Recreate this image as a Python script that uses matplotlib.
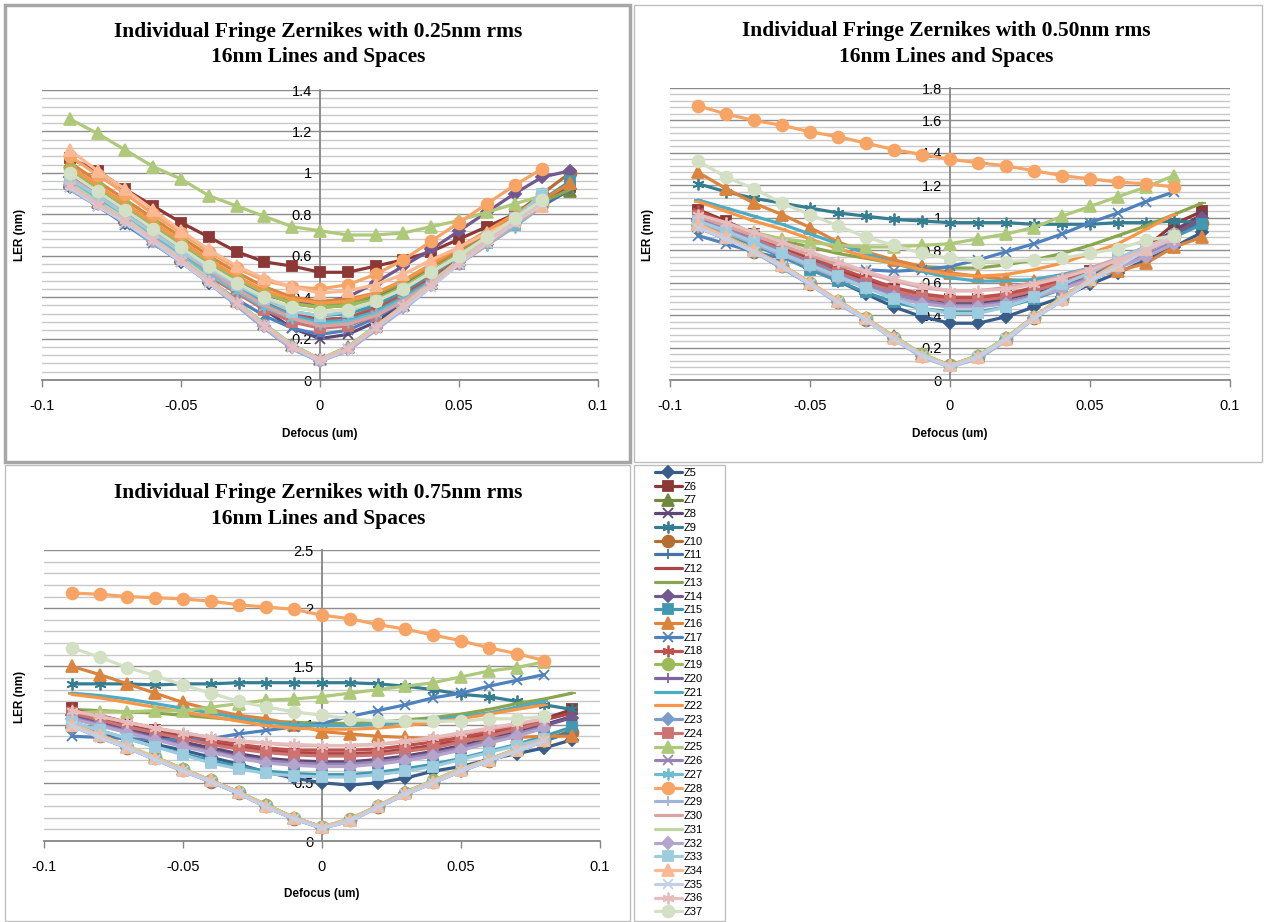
import matplotlib
matplotlib.use('Agg')
import matplotlib.pyplot as plt
from matplotlib.ticker import MultipleLocator, FormatStrFormatter
from matplotlib.patches import Rectangle

# defocus positions (um)
defocus = [-0.09, -0.08, -0.07, -0.06, -0.05, -0.04, -0.03, -0.02, -0.01, 0.0,
           0.01, 0.02, 0.03, 0.04, 0.05, 0.06, 0.07, 0.08, 0.09]

rms_levels = ['0.25', '0.50', '0.75']
y_max = [1.4, 1.8, 2.5]
y_major = [0.2, 0.2, 0.5]
y_minor = [0.04, 0.04, 0.1]

# LER (nm) per Zernike: [0.25nm panel, 0.50nm panel, 0.75nm panel]
z5 = [[0.93, 0.85, 0.76, 0.67, 0.57, 0.47, 0.37, 0.26, 0.16, 0.09, 0.15, 0.25, 0.35, 0.46, 0.57, 0.67, 0.77, 0.85, 0.92],
      [0.98, 0.91, 0.84, 0.77, 0.69, 0.61, 0.53, 0.45, 0.39, 0.35, 0.35, 0.39, 0.45, 0.51, 0.59, 0.66, 0.74, 0.82, 0.91],
      [0.98, 0.93, 0.88, 0.83, 0.78, 0.72, 0.66, 0.59, 0.54, 0.50, 0.48, 0.50, 0.54, 0.60, 0.64, 0.70, 0.75, 0.80, 0.87]]
z6 = [[1.07, 1.01, 0.92, 0.84, 0.76, 0.69, 0.62, 0.57, 0.55, 0.52, 0.52, 0.55, 0.58, 0.62, 0.68, 0.74, 0.80, 0.86, 0.93],
      [1.05, 0.98, 0.90, 0.82, 0.75, 0.68, 0.62, 0.56, 0.52, 0.50, 0.50, 0.52, 0.56, 0.61, 0.67, 0.74, 0.82, 0.96, 1.04],
      [1.14, 1.07, 1.01, 0.95, 0.89, 0.84, 0.80, 0.77, 0.75, 0.74, 0.74, 0.75, 0.78, 0.82, 0.86, 0.92, 0.98, 1.05, 1.13]]
z7 = [[0.95, 0.86, 0.78, 0.68, 0.59, 0.49, 0.38, 0.27, 0.17, 0.10, 0.16, 0.26, 0.36, 0.47, 0.58, 0.68, 0.78, 0.86, 0.91],
      [0.96, 0.88, 0.80, 0.71, 0.60, 0.49, 0.38, 0.27, 0.16, 0.09, 0.15, 0.26, 0.39, 0.51, 0.62, 0.72, 0.81, 0.90, 0.97],
      [1.01, 0.91, 0.81, 0.72, 0.62, 0.52, 0.42, 0.31, 0.20, 0.12, 0.18, 0.30, 0.42, 0.52, 0.62, 0.70, 0.79, 0.87, 0.95]]
z8 = [[0.97, 0.88, 0.79, 0.70, 0.61, 0.52, 0.43, 0.34, 0.25, 0.20, 0.22, 0.28, 0.37, 0.47, 0.57, 0.67, 0.77, 0.86, 0.94],
      [1.02, 0.95, 0.88, 0.80, 0.73, 0.66, 0.59, 0.53, 0.49, 0.47, 0.47, 0.50, 0.54, 0.60, 0.67, 0.74, 0.82, 0.92, 1.02],
      [1.10, 1.03, 0.97, 0.91, 0.85, 0.80, 0.75, 0.71, 0.69, 0.68, 0.68, 0.70, 0.73, 0.77, 0.82, 0.88, 0.94, 1.00, 1.07]]
z9 = [[1.00, 0.91, 0.82, 0.73, 0.64, 0.55, 0.46, 0.38, 0.32, 0.29, 0.30, 0.34, 0.41, 0.49, 0.58, 0.67, 0.76, 0.85, 0.94],
      [1.21, 1.16, 1.12, 1.09, 1.06, 1.03, 1.01, 0.99, 0.98, 0.97, 0.97, 0.97, 0.96, 0.96, 0.96, 0.97, 0.97, 0.98, 0.97],
      [1.35, 1.35, 1.35, 1.34, 1.35, 1.35, 1.36, 1.36, 1.36, 1.36, 1.36, 1.35, 1.33, 1.30, 1.26, 1.24, 1.20, 1.17, 1.13]]
z10 = [[0.95, 0.87, 0.79, 0.70, 0.61, 0.52, 0.43, 0.35, 0.30, 0.28, 0.30, 0.35, 0.42, 0.51, 0.60, 0.70, 0.80, 0.90, 1.00],
       [0.94, 0.87, 0.79, 0.70, 0.59, 0.48, 0.37, 0.26, 0.15, 0.09, 0.14, 0.25, 0.38, 0.50, 0.61, 0.71, 0.80, 0.89, 0.97],
       [0.99, 0.90, 0.80, 0.71, 0.61, 0.51, 0.41, 0.30, 0.19, 0.12, 0.18, 0.29, 0.41, 0.51, 0.61, 0.69, 0.78, 0.86, 0.94]]
z11 = [[0.92, 0.84, 0.76, 0.66, 0.57, 0.47, 0.36, 0.25, 0.15, 0.09, 0.15, 0.24, 0.35, 0.46, 0.56, 0.66, 0.76, 0.84, 0.92],
       [0.94, 0.87, 0.79, 0.69, 0.59, 0.48, 0.37, 0.25, 0.15, 0.08, 0.14, 0.25, 0.38, 0.49, 0.61, 0.70, 0.80, 0.89, 0.97],
       [0.99, 0.89, 0.80, 0.70, 0.60, 0.51, 0.41, 0.29, 0.19, 0.11, 0.17, 0.29, 0.40, 0.50, 0.60, 0.69, 0.77, 0.86, 0.94]]
z12 = [[1.02, 0.93, 0.84, 0.75, 0.66, 0.57, 0.49, 0.42, 0.37, 0.35, 0.36, 0.40, 0.46, 0.54, 0.62, 0.70, 0.78, 0.86, 0.94],
       [1.03, 0.96, 0.89, 0.81, 0.74, 0.67, 0.60, 0.55, 0.51, 0.49, 0.49, 0.51, 0.55, 0.60, 0.66, 0.73, 0.80, 0.90, 1.00],
       [1.12, 1.06, 1.00, 0.95, 0.90, 0.85, 0.81, 0.78, 0.76, 0.75, 0.75, 0.76, 0.79, 0.82, 0.87, 0.92, 0.98, 1.04, 1.10]]
z13 = [[1.03, 0.94, 0.85, 0.76, 0.67, 0.58, 0.50, 0.43, 0.38, 0.36, 0.37, 0.41, 0.47, 0.55, 0.63, 0.71, 0.79, 0.86, 0.92],
       [1.00, 0.95, 0.90, 0.86, 0.82, 0.78, 0.75, 0.72, 0.70, 0.69, 0.69, 0.71, 0.74, 0.78, 0.83, 0.89, 0.95, 1.02, 1.09],
       [1.13, 1.12, 1.11, 1.10, 1.08, 1.06, 1.04, 1.03, 1.02, 1.01, 1.01, 1.02, 1.04, 1.06, 1.09, 1.13, 1.18, 1.22, 1.27]]
z14 = [[0.98, 0.90, 0.81, 0.72, 0.63, 0.55, 0.47, 0.41, 0.38, 0.37, 0.40, 0.47, 0.55, 0.63, 0.72, 0.81, 0.90, 0.98, 1.01],
       [0.99, 0.92, 0.85, 0.78, 0.71, 0.64, 0.58, 0.52, 0.48, 0.46, 0.46, 0.48, 0.52, 0.58, 0.64, 0.71, 0.79, 0.89, 1.00],
       [1.08, 1.01, 0.95, 0.89, 0.83, 0.78, 0.73, 0.69, 0.67, 0.66, 0.66, 0.68, 0.71, 0.75, 0.80, 0.86, 0.92, 0.99, 1.06]]
z15 = [[0.98, 0.89, 0.81, 0.72, 0.64, 0.55, 0.47, 0.39, 0.33, 0.31, 0.32, 0.36, 0.43, 0.51, 0.60, 0.69, 0.78, 0.87, 0.96],
       [0.97, 0.90, 0.83, 0.76, 0.68, 0.61, 0.54, 0.48, 0.44, 0.42, 0.42, 0.45, 0.50, 0.56, 0.63, 0.71, 0.79, 0.88, 0.96],
       [1.02, 0.95, 0.88, 0.81, 0.75, 0.69, 0.64, 0.60, 0.58, 0.57, 0.57, 0.59, 0.62, 0.66, 0.71, 0.77, 0.83, 0.90, 0.98]]
z16 = [[1.05, 0.96, 0.87, 0.78, 0.69, 0.60, 0.52, 0.45, 0.40, 0.38, 0.39, 0.42, 0.48, 0.55, 0.63, 0.71, 0.79, 0.87, 0.95],
       [1.28, 1.18, 1.09, 1.02, 0.94, 0.85, 0.79, 0.74, 0.70, 0.66, 0.64, 0.62, 0.61, 0.62, 0.64, 0.67, 0.72, 0.82, 0.88],
       [1.50, 1.43, 1.35, 1.27, 1.19, 1.13, 1.08, 1.05, 1.00, 0.94, 0.92, 0.90, 0.89, 0.88, 0.87, 0.88, 0.89, 0.90, 0.90]]
z17 = [[0.93, 0.84, 0.75, 0.66, 0.57, 0.48, 0.39, 0.31, 0.25, 0.22, 0.24, 0.30, 0.38, 0.47, 0.57, 0.67, 0.77, 0.87],
       [0.89, 0.84, 0.79, 0.75, 0.72, 0.70, 0.68, 0.67, 0.68, 0.70, 0.74, 0.79, 0.84, 0.90, 0.97, 1.03, 1.10, 1.16],
       [0.90, 0.89, 0.88, 0.87, 0.87, 0.88, 0.92, 0.95, 0.98, 1.01, 1.07, 1.12, 1.17, 1.23, 1.27, 1.33, 1.38, 1.43]]
z18 = [[0.99, 0.90, 0.81, 0.72, 0.63, 0.54, 0.46, 0.38, 0.32, 0.29, 0.30, 0.34, 0.41, 0.49, 0.58, 0.67, 0.76, 0.85],
       [1.04, 0.97, 0.90, 0.83, 0.76, 0.69, 0.63, 0.57, 0.53, 0.51, 0.51, 0.53, 0.57, 0.62, 0.68, 0.75, 0.82, 0.90],
       [1.13, 1.08, 1.02, 0.97, 0.92, 0.87, 0.83, 0.80, 0.78, 0.78, 0.78, 0.79, 0.82, 0.85, 0.89, 0.94, 0.99, 1.05]]
z19 = [[1.02, 0.93, 0.84, 0.75, 0.66, 0.57, 0.49, 0.42, 0.37, 0.35, 0.36, 0.39, 0.45, 0.53, 0.61, 0.69, 0.77, 0.85],
       [0.96, 0.89, 0.80, 0.70, 0.60, 0.49, 0.38, 0.26, 0.16, 0.09, 0.15, 0.26, 0.39, 0.50, 0.62, 0.72, 0.81, 0.90],
       [1.00, 0.91, 0.81, 0.72, 0.62, 0.52, 0.42, 0.31, 0.20, 0.12, 0.19, 0.30, 0.41, 0.52, 0.61, 0.70, 0.79, 0.87]]
z20 = [[0.93, 0.85, 0.77, 0.67, 0.58, 0.48, 0.37, 0.26, 0.16, 0.10, 0.15, 0.25, 0.35, 0.46, 0.57, 0.67, 0.77, 0.85],
       [0.95, 0.88, 0.80, 0.70, 0.60, 0.48, 0.38, 0.26, 0.15, 0.09, 0.14, 0.25, 0.39, 0.50, 0.62, 0.71, 0.81, 0.90],
       [1.00, 0.90, 0.81, 0.71, 0.61, 0.52, 0.42, 0.30, 0.20, 0.12, 0.18, 0.30, 0.41, 0.51, 0.61, 0.70, 0.78, 0.87]]
z21 = [[0.97, 0.88, 0.79, 0.70, 0.62, 0.53, 0.45, 0.37, 0.31, 0.28, 0.29, 0.33, 0.40, 0.48, 0.57, 0.66, 0.75, 0.84],
       [1.11, 1.06, 1.01, 0.96, 0.90, 0.84, 0.78, 0.72, 0.67, 0.63, 0.61, 0.61, 0.62, 0.65, 0.69, 0.74, 0.80, 0.86],
       [1.27, 1.25, 1.22, 1.18, 1.14, 1.10, 1.06, 1.02, 1.00, 0.99, 0.99, 1.00, 1.02, 1.04, 1.07, 1.10, 1.15, 1.20]]
z22 = [[1.03, 0.94, 0.85, 0.76, 0.67, 0.58, 0.50, 0.43, 0.39, 0.37, 0.38, 0.42, 0.48, 0.56, 0.64, 0.72, 0.80, 0.88],
       [1.10, 1.04, 0.98, 0.93, 0.87, 0.81, 0.76, 0.72, 0.68, 0.65, 0.64, 0.65, 0.68, 0.72, 0.78, 0.84, 0.93, 1.02],
       [1.26, 1.23, 1.19, 1.15, 1.11, 1.07, 1.03, 0.99, 0.97, 0.96, 0.96, 0.97, 0.99, 1.02, 1.05, 1.09, 1.13, 1.17]]
z23 = [[0.94, 0.86, 0.77, 0.68, 0.58, 0.48, 0.37, 0.26, 0.16, 0.09, 0.15, 0.25, 0.35, 0.46, 0.57, 0.67, 0.77, 0.86],
       [0.95, 0.87, 0.79, 0.70, 0.59, 0.48, 0.37, 0.26, 0.15, 0.09, 0.14, 0.25, 0.38, 0.50, 0.61, 0.71, 0.81, 0.90],
       [0.99, 0.90, 0.80, 0.71, 0.61, 0.51, 0.41, 0.30, 0.19, 0.11, 0.18, 0.29, 0.41, 0.51, 0.60, 0.69, 0.78, 0.86]]
z24 = [[0.95, 0.86, 0.77, 0.68, 0.59, 0.50, 0.42, 0.34, 0.28, 0.25, 0.26, 0.31, 0.38, 0.47, 0.56, 0.66, 0.75, 0.84],
       [1.01, 0.94, 0.87, 0.80, 0.73, 0.66, 0.60, 0.55, 0.51, 0.49, 0.49, 0.51, 0.55, 0.60, 0.66, 0.73, 0.80, 0.88],
       [1.10, 1.04, 0.98, 0.93, 0.88, 0.83, 0.79, 0.76, 0.74, 0.73, 0.73, 0.74, 0.77, 0.80, 0.85, 0.90, 0.96, 1.02]]
z25 = [[1.26, 1.19, 1.11, 1.03, 0.97, 0.89, 0.84, 0.79, 0.74, 0.72, 0.70, 0.70, 0.71, 0.74, 0.77, 0.81, 0.85, 0.89],
       [0.99, 0.95, 0.91, 0.87, 0.85, 0.83, 0.82, 0.82, 0.83, 0.84, 0.87, 0.90, 0.94, 1.01, 1.07, 1.13, 1.19, 1.26],
       [1.10, 1.11, 1.11, 1.12, 1.12, 1.15, 1.18, 1.21, 1.22, 1.24, 1.27, 1.30, 1.33, 1.36, 1.41, 1.46, 1.49, 1.54]]
z26 = [[0.94, 0.85, 0.77, 0.67, 0.58, 0.48, 0.37, 0.26, 0.16, 0.10, 0.15, 0.25, 0.35, 0.46, 0.57, 0.67, 0.77, 0.85],
       [1.00, 0.93, 0.86, 0.79, 0.72, 0.65, 0.59, 0.53, 0.49, 0.46, 0.46, 0.48, 0.52, 0.57, 0.63, 0.70, 0.77, 0.85],
       [1.06, 1.00, 0.94, 0.88, 0.82, 0.77, 0.72, 0.69, 0.67, 0.66, 0.66, 0.68, 0.71, 0.75, 0.80, 0.86, 0.92, 0.98]]
z27 = [[0.96, 0.87, 0.78, 0.69, 0.60, 0.51, 0.43, 0.35, 0.30, 0.27, 0.28, 0.32, 0.39, 0.47, 0.56, 0.65, 0.74, 0.84],
       [0.95, 0.88, 0.79, 0.70, 0.60, 0.48, 0.37, 0.26, 0.15, 0.09, 0.14, 0.25, 0.39, 0.50, 0.61, 0.71, 0.81, 0.89],
       [1.00, 0.90, 0.81, 0.71, 0.61, 0.52, 0.41, 0.30, 0.20, 0.12, 0.18, 0.30, 0.41, 0.51, 0.61, 0.70, 0.78, 0.86]]
z28 = [[1.08, 0.99, 0.90, 0.80, 0.71, 0.62, 0.54, 0.48, 0.45, 0.44, 0.46, 0.51, 0.58, 0.67, 0.76, 0.85, 0.94, 1.02],
       [1.69, 1.64, 1.60, 1.57, 1.53, 1.50, 1.46, 1.42, 1.39, 1.36, 1.34, 1.32, 1.29, 1.26, 1.24, 1.22, 1.21, 1.19],
       [2.13, 2.12, 2.10, 2.09, 2.08, 2.06, 2.03, 2.01, 1.99, 1.94, 1.91, 1.86, 1.82, 1.77, 1.72, 1.66, 1.61, 1.55]]
z29 = [[0.92, 0.84, 0.76, 0.66, 0.57, 0.47, 0.36, 0.25, 0.15, 0.09, 0.14, 0.24, 0.34, 0.45, 0.56, 0.66, 0.76, 0.84],
       [0.94, 0.87, 0.79, 0.69, 0.59, 0.47, 0.37, 0.25, 0.14, 0.08, 0.13, 0.24, 0.38, 0.49, 0.61, 0.70, 0.80, 0.89],
       [0.99, 0.89, 0.80, 0.70, 0.60, 0.51, 0.41, 0.29, 0.19, 0.11, 0.17, 0.29, 0.40, 0.50, 0.60, 0.69, 0.77, 0.86]]
z30 = [[0.98, 0.89, 0.80, 0.71, 0.62, 0.53, 0.44, 0.36, 0.30, 0.26, 0.27, 0.31, 0.38, 0.47, 0.56, 0.65, 0.75, 0.84],
       [1.01, 0.95, 0.89, 0.83, 0.77, 0.71, 0.66, 0.61, 0.57, 0.55, 0.55, 0.57, 0.60, 0.64, 0.69, 0.75, 0.81, 0.88],
       [1.12, 1.07, 1.02, 0.97, 0.93, 0.89, 0.86, 0.84, 0.82, 0.82, 0.82, 0.83, 0.85, 0.88, 0.92, 0.96, 1.00, 1.05]]
z31 = [[0.95, 0.86, 0.78, 0.68, 0.59, 0.49, 0.38, 0.27, 0.17, 0.10, 0.16, 0.26, 0.36, 0.47, 0.58, 0.68, 0.78, 0.86],
       [0.96, 0.88, 0.80, 0.70, 0.60, 0.49, 0.38, 0.27, 0.16, 0.09, 0.15, 0.26, 0.39, 0.51, 0.62, 0.72, 0.81, 0.90],
       [1.01, 0.91, 0.82, 0.72, 0.62, 0.52, 0.42, 0.31, 0.20, 0.12, 0.19, 0.30, 0.42, 0.52, 0.62, 0.70, 0.79, 0.87]]
z32 = [[0.94, 0.85, 0.77, 0.67, 0.58, 0.48, 0.37, 0.26, 0.16, 0.09, 0.15, 0.25, 0.35, 0.46, 0.57, 0.67, 0.77, 0.86],
       [0.98, 0.91, 0.84, 0.77, 0.70, 0.63, 0.57, 0.51, 0.47, 0.45, 0.45, 0.47, 0.51, 0.56, 0.62, 0.69, 0.76, 0.84],
       [1.05, 0.99, 0.93, 0.87, 0.81, 0.76, 0.71, 0.67, 0.65, 0.64, 0.64, 0.66, 0.69, 0.73, 0.78, 0.84, 0.90, 0.97]]
z33 = [[0.97, 0.89, 0.80, 0.71, 0.62, 0.54, 0.46, 0.39, 0.33, 0.31, 0.33, 0.38, 0.44, 0.52, 0.60, 0.69, 0.78, 0.90],
       [0.98, 0.92, 0.85, 0.78, 0.71, 0.64, 0.57, 0.50, 0.44, 0.41, 0.41, 0.45, 0.51, 0.59, 0.66, 0.75, 0.82, 0.89],
       [1.02, 0.95, 0.88, 0.81, 0.74, 0.67, 0.62, 0.58, 0.56, 0.55, 0.55, 0.57, 0.60, 0.64, 0.70, 0.76, 0.82, 0.88]]
z34 = [[1.11, 1.01, 0.92, 0.82, 0.72, 0.63, 0.55, 0.49, 0.45, 0.42, 0.43, 0.46, 0.51, 0.58, 0.64, 0.71, 0.77, 0.84],
       [0.96, 0.88, 0.80, 0.71, 0.60, 0.49, 0.38, 0.26, 0.15, 0.09, 0.14, 0.25, 0.39, 0.50, 0.62, 0.71, 0.81, 0.90],
       [1.00, 0.91, 0.81, 0.71, 0.61, 0.52, 0.42, 0.30, 0.20, 0.12, 0.18, 0.30, 0.41, 0.51, 0.61, 0.70, 0.78, 0.87]]
z35 = [[0.93, 0.84, 0.76, 0.67, 0.57, 0.47, 0.37, 0.26, 0.16, 0.09, 0.15, 0.25, 0.35, 0.45, 0.56, 0.66, 0.76, 0.85],
       [0.94, 0.87, 0.79, 0.70, 0.59, 0.48, 0.37, 0.25, 0.15, 0.08, 0.14, 0.25, 0.38, 0.49, 0.61, 0.70, 0.80, 0.89],
       [0.99, 0.89, 0.80, 0.70, 0.60, 0.51, 0.41, 0.29, 0.19, 0.11, 0.17, 0.29, 0.40, 0.50, 0.60, 0.69, 0.77, 0.86]]
z36 = [[0.94, 0.85, 0.77, 0.68, 0.58, 0.48, 0.37, 0.26, 0.16, 0.10, 0.15, 0.25, 0.36, 0.46, 0.57, 0.67, 0.77, 0.86],
       [1.02, 0.97, 0.91, 0.85, 0.79, 0.73, 0.67, 0.62, 0.58, 0.55, 0.55, 0.56, 0.59, 0.63, 0.68, 0.74, 0.80, 0.87],
       [1.12, 1.07, 1.02, 0.97, 0.93, 0.89, 0.86, 0.84, 0.83, 0.82, 0.82, 0.83, 0.86, 0.89, 0.93, 0.97, 1.01, 1.05]]
z37 = [[1.00, 0.91, 0.82, 0.73, 0.64, 0.55, 0.47, 0.40, 0.35, 0.33, 0.34, 0.38, 0.44, 0.52, 0.60, 0.69, 0.78, 0.87],
       [1.35, 1.25, 1.18, 1.09, 1.02, 0.95, 0.88, 0.83, 0.78, 0.75, 0.73, 0.73, 0.74, 0.75, 0.78, 0.81, 0.86, 0.89],
       [1.66, 1.58, 1.49, 1.42, 1.34, 1.27, 1.20, 1.15, 1.11, 1.08, 1.05, 1.03, 1.03, 1.03, 1.03, 1.05, 1.05, 1.07]]

series = [z5, z6, z7, z8, z9, z10, z11, z12, z13, z14, z15, z16, z17, z18, z19, z20, z21,
          z22, z23, z24, z25, z26, z27, z28, z29, z30, z31, z32, z33, z34, z35, z36, z37]
names = ['Z%d' % i for i in range(5, 38)]

colors = ['#385D8A', '#8C3836', '#71893F', '#5C4776', '#357D91', '#B66D31',
          '#4572A7', '#AA4643', '#89A54E', '#71588F', '#4198AF', '#DB843D',
          '#4F81BD', '#C0504D', '#9BBB59', '#8064A2', '#4BACC6', '#F79646',
          '#7A9CCB', '#CD7371', '#AFC97A', '#9983B5', '#6FBDD1', '#F7A465',
          '#A2B5D8', '#D9A3A2', '#C1D5A2', '#B3A5CB', '#9DCCDE', '#FBB993',
          '#C4D0E6', '#E6BDBC', '#D3E0C3']

star = (6, 2, 0)
marker_cycle = [('D', 6), ('s', 7.5), ('^', 8), ('x', 7), (star, 8.5), ('o', 8.5), ('+', 7.5), ('_', 6), ('_', 6)]

W, H = 1264, 922


def fx(px):
    return px / W


def fy(py):
    return 1 - py / H


fig = plt.figure(figsize=(W / 100, H / 100), dpi=100, facecolor='white')

# panel frames
fig.add_artist(Rectangle((fx(5), fy(462)), fx(625), 457 / H, transform=fig.transFigure,
                         fill=False, edgecolor='#A6A6A6', linewidth=2.5))
fig.add_artist(Rectangle((fx(634), fy(462)), fx(628), 457 / H, transform=fig.transFigure,
                         fill=False, edgecolor='#BFBFBF', linewidth=1))
fig.add_artist(Rectangle((fx(5), fy(921)), fx(625), 456 / H, transform=fig.transFigure,
                         fill=False, edgecolor='#BFBFBF', linewidth=1))
fig.add_artist(Rectangle((fx(634), fy(921)), fx(91), 456 / H, transform=fig.transFigure,
                         fill=False, edgecolor='#BFBFBF', linewidth=1))

# axes boxes in pixels: left, right, top, bottom
boxes = [(42, 598, 90, 380), (670, 1230, 88, 380), (44, 600, 550, 841)]
title_pos = [(318, 32, 57), (946, 31, 57), (318, 493, 519)]
ylab_pos = [(20, 235), (648, 235), (20, 697)]
xlab_pos = [(320, 434), (950, 434), (322, 894)]

handles = []
for p in range(3):
    l, r, t, b = boxes[p]
    ax = fig.add_axes([fx(l), fy(b), (r - l) / W, (b - t) / H])
    for i, s in enumerate(series):
        vals = s[p]
        m, ms = marker_cycle[i % 9]
        line, = ax.plot(defocus[:len(vals)], vals, color=colors[i], lw=2.3,
                        marker=m, markersize=ms, markerfacecolor=colors[i],
                        markeredgecolor=colors[i], markeredgewidth=1.3,
                        solid_joinstyle='round', solid_capstyle='round')
        if p == 0:
            handles.append(line)

    ax.set_xlim(-0.1, 0.1)
    ax.set_ylim(0, y_max[p])
    ax.set_xticks([-0.1, -0.05, 0, 0.05, 0.1])
    ax.set_xticklabels(['-0.1', '-0.05', '0', '0.05', '0.1'])
    ax.yaxis.set_major_locator(MultipleLocator(y_major[p]))
    ax.yaxis.set_minor_locator(MultipleLocator(y_minor[p]))
    ax.yaxis.set_major_formatter(FormatStrFormatter('%g'))
    ax.grid(True, axis='y', which='major', color='#8C8C8C', linewidth=1)
    ax.grid(True, axis='y', which='minor', color='#C8C8C8', linewidth=1)
    ax.set_axisbelow(True)

    for side in ['top', 'right']:
        ax.spines[side].set_visible(False)
    ax.spines['left'].set_position(('data', 0))
    ax.spines['left'].set_color('#868686')
    ax.spines['left'].set_linewidth(1.3)
    ax.spines['left'].set_zorder(1.5)
    ax.spines['bottom'].set_color('#868686')
    ax.spines['bottom'].set_linewidth(1.3)
    ax.tick_params(axis='y', which='both', length=0, pad=6, labelsize=10.5)
    ax.tick_params(axis='x', which='major', length=5, width=1, color='#868686', direction='out',
                   pad=9, labelsize=10.5)
    for lab in ax.get_xticklabels() + ax.get_yticklabels():
        lab.set_family('Liberation Sans')

    tx, ty1, ty2 = title_pos[p]
    fig.text(fx(tx), fy(ty1), 'Individual Fringe Zernikes with %snm rms' % rms_levels[p],
             ha='center', va='center', fontsize=15.5, fontweight='bold', family='Liberation Serif')
    fig.text(fx(tx), fy(ty2), '16nm Lines and Spaces',
             ha='center', va='center', fontsize=15.5, fontweight='bold', family='Liberation Serif')
    lx, ly = ylab_pos[p]
    fig.text(fx(lx), fy(ly), 'LER (nm)', rotation=90, ha='center', va='center',
             fontsize=8.5, fontweight='bold', family='Liberation Sans')
    dx, dy = xlab_pos[p]
    fig.text(fx(dx), fy(dy), 'Defocus (um)', ha='center', va='center',
             fontsize=8.5, fontweight='bold', family='Liberation Sans')

fig.legend(handles, names, loc='upper left', bbox_to_anchor=(fx(655), fy(468)),
           frameon=False, handlelength=2.4, handletextpad=0.15,
           labelspacing=0.335, borderaxespad=0, borderpad=0,
           prop={'family': 'Liberation Sans', 'size': 8})

plt.savefig('out.png', dpi=100, facecolor='white')
